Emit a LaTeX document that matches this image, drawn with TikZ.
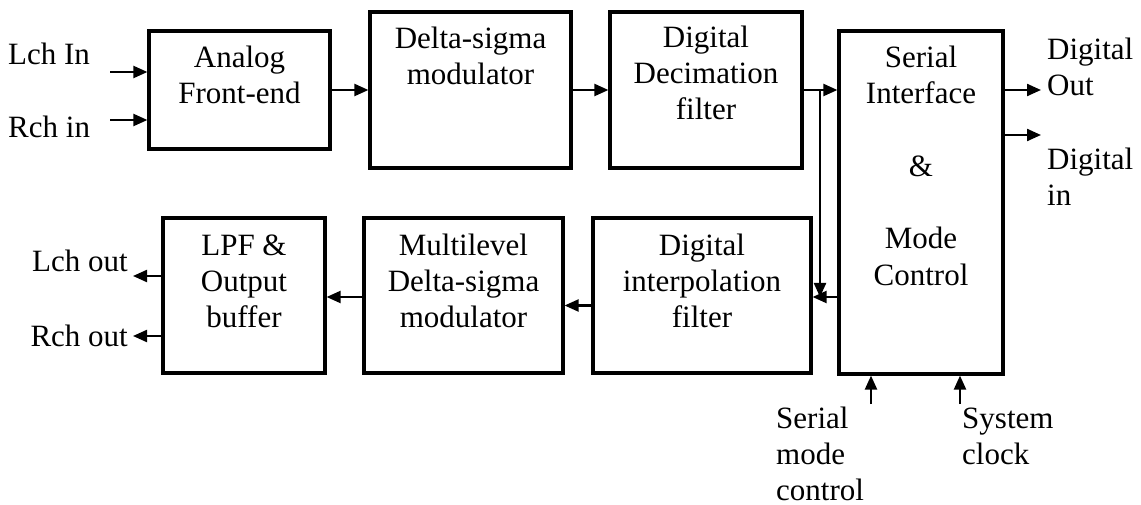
\documentclass[tikz,border=0pt]{standalone}
\usepackage{fontspec}
\setmainfont{Liberation Serif}
\usetikzlibrary{arrows.meta,calc}
\begin{document}
\begin{tikzpicture}[x=1pt,y=-1pt,
  box/.style={draw,line width=3.2pt,inner sep=0pt},
  txt/.style={font=\fontsize{31}{36}\selectfont,align=center,inner sep=0pt},
  lbl/.style={font=\fontsize{31}{36}\selectfont,align=left,inner sep=0pt},
  arr/.style={line width=2.2pt,-{Triangle[length=14pt,width=12pt]}}]
\useasboundingbox (0,0) rectangle (1141,505);
% boxes
\node[box,minimum width=181pt,minimum height=118pt] (afe) at (239.5,90) {};
\node[box,minimum width=201pt,minimum height=156pt] (dsm) at (470.5,90) {};
\node[box,minimum width=192pt,minimum height=156pt] (dec) at (706,90) {};
\node[box,minimum width=164pt,minimum height=343pt] (sif) at (921,202.5) {};
\node[box,minimum width=162pt,minimum height=155pt] (lpf) at (244,295.5) {};
\node[box,minimum width=199pt,minimum height=155pt] (mdsm) at (463.5,295.5) {};
\node[box,minimum width=218pt,minimum height=155pt] (dif) at (702,295.5) {};
% box texts (base = last line)
\node[txt,anchor=base] (afet) at (239.5,104) {Analog\\Front-end};
\node[txt,anchor=base] (dsmt) at (470.5,85) {Delta-sigma\\modulator};
\node[txt,anchor=base] (dect) at (706,120) {Digital\\Decimation\\filter};
\node[txt,anchor=base] (sift) at (921,285) {Serial\\Interface\\[37pt]\&\\[37pt]Mode\\Control};
\node[txt,anchor=base] (lpft) at (244,327) {LPF \&\\Output\\buffer};
\node[txt,anchor=base] (mdsmt) at (463.5,327) {Multilevel\\Delta-sigma\\modulator};
\node[txt,anchor=base] (dift) at (702,327) {Digital\\interpolation\\filter};
% outside labels
\node[lbl,anchor=base west] (lchin) at (8,65) {Lch In};
\node[lbl,anchor=base west] (rchin) at (8,138) {Rch in};
\node[lbl,anchor=base east] (lchout) at (128,272) {Lch out};
\node[lbl,anchor=base east] (rchout) at (128,346) {Rch out};
\node[lbl,anchor=base west] (dgout) at (1047,96) {Digital\\Out};
\node[lbl,anchor=base west] (dgin) at (1047,206) {Digital\\in};
\node[lbl,anchor=base west] (smct) at (776,500) {Serial\\mode\\control};
\node[lbl,anchor=base west] (sckt) at (962,464) {System\\clock};
% free ends
\coordinate (lin) at (110,72);
\coordinate (rin) at (110,120);
\coordinate (spl) at (820,90);
\coordinate (spe) at (820,297);
\coordinate (lout) at (133,276);
\coordinate (rout) at (133,336);
\coordinate (dout) at (1041,90);
\coordinate (din) at (1041,135);
\coordinate (smc) at (871,404);
\coordinate (sck) at (960,404);
% connectors
\draw[arr] (lin) -- (lin -| afe.west);
\draw[arr] (rin) -- (rin -| afe.west);
\draw[arr] (afe.east) -- (dsm.west);
\draw[arr] (dsm.east) -- (dec.west);
\draw[arr] (dec.east) -- (dec.east -| sif.west);
\draw[arr] (spl) -- (spe);
\draw[arr] (sif.west |- spe) -- (dif.east |- spe);
\draw[arr] ($(dif.west)+(0,10)$) -- ($(mdsm.east)+(0,10)$);
\draw[arr] ($(mdsm.west)+(0,1.5)$) -- ($(lpf.east)+(0,1.5)$);
\draw[arr] (lout -| lpf.west) -- (lout);
\draw[arr] (rout -| lpf.west) -- (rout);
\draw[arr] (dout -| sif.east) -- (dout);
\draw[arr] (din -| sif.east) -- (din);
\draw[arr] (smc) -- (smc |- sif.south);
\draw[arr] (sck) -- (sck |- sif.south);
\end{tikzpicture}
\end{document}
